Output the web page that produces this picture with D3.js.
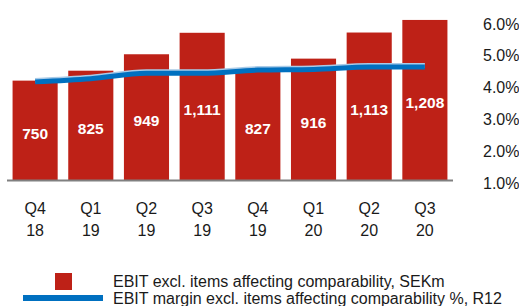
<!DOCTYPE html>
<html><head><meta charset="utf-8">
<script src="https://cdn.jsdelivr.net/npm/d3@7"></script>
<style>body{margin:0;background:#fff}svg{display:block}text{font-family:"Liberation Sans",Arial,sans-serif}</style>
</head><body>
<svg id="c" width="519" height="306"></svg>
<script>
const quarters = ["Q4","Q1","Q2","Q3","Q4","Q1","Q2","Q3"];
const years = ["18","19","19","19","19","20","20","20"];
const ebit = [750, 825, 949, 1111, 827, 916, 1113, 1208];
const ebitLabels = ["750","825","949","1,111","827","916","1,113","1,208"];
const margin = [4.18, 4.28, 4.45, 4.45, 4.55, 4.57, 4.65, 4.65];
const rightTicks = [1, 2, 3, 4, 5, 6];
const legendLabels = ["EBIT excl. items affecting comparability, SEKm", "EBIT margin excl. items affecting comparability %, R12"];

const svg = d3.select("#c");
const cats = d3.range(quarters.length);
const x = d3.scaleBand().domain(cats).range([7, 453]).paddingInner(0.19).paddingOuter(0.1);
const yL = d3.scaleLinear().domain([0, 1000]).range([180, 47.5]);
const yR = d3.scaleLinear().domain([1, 6]).range([183, 24]);
const red = "#BE2117", blue = "#0070C0";

svg.append("g").selectAll("rect").data(ebit).join("rect")
  .attr("x", (d,i) => x(i)).attr("width", x.bandwidth())
  .attr("y", d => yL(d)).attr("height", d => yL(0) - yL(d))
  .attr("fill", red);

svg.append("line").attr("x1", 7).attr("x2", 453).attr("y1", 180.5).attr("y2", 180.5)
  .attr("stroke", "#808080").attr("stroke-width", 2);

svg.append("g").selectAll("text").data(ebit).join("text")
  .attr("x", (d,i) => x(i) + x.bandwidth()/2)
  .attr("y", d => (yL(d) + yL(0))/2 + 8.5)
  .attr("text-anchor", "middle").attr("fill", "#fff")
  .attr("font-weight", "bold").attr("font-size", 15.5)
  .text((d,i) => ebitLabels[i]);

const line = d3.line().x((d,i) => x(i) + x.bandwidth()/2).y(d => yR(d)).curve(d3.curveMonotoneX);
svg.append("path").datum(margin).attr("d", line).attr("transform", "translate(0,-1.5)")
  .attr("fill", "none").attr("stroke", "#a9cbe8").attr("stroke-width", 5);
svg.append("path").datum(margin).attr("d", line)
  .attr("fill", "none").attr("stroke", blue).attr("stroke-width", 5);

const ax = svg.append("g").attr("transform", "translate(478,0)")
  .call(d3.axisRight(yR).tickValues(rightTicks).tickSize(0).tickPadding(5).tickFormat(d => d3.format(".1f")(d) + "%"));
ax.select(".domain").remove();
ax.selectAll("text").attr("font-size", 16).attr("fill", "#1a1a1a").style("font-family", '"Liberation Sans",Arial,sans-serif');

const xl = svg.append("g");
xl.selectAll("text.q").data(quarters).join("text").attr("class","q")
  .attr("x", (d,i) => x(i) + x.bandwidth()/2).attr("y", 214)
  .attr("text-anchor", "middle").attr("font-size", 16).attr("fill", "#1a1a1a").text(d => d);
xl.selectAll("text.y").data(years).join("text").attr("class","y")
  .attr("x", (d,i) => x(i) + x.bandwidth()/2).attr("y", 236)
  .attr("text-anchor", "middle").attr("font-size", 16).attr("fill", "#1a1a1a").text(d => d);

const lg = svg.append("g");
lg.append("rect").attr("x", 55).attr("y", 273).attr("width", 17).attr("height", 17).attr("fill", red);
lg.append("line").attr("x1", 23).attr("x2", 103).attr("y1", 298).attr("y2", 298).attr("stroke", blue).attr("stroke-width", 6);
lg.selectAll("text").data(legendLabels).join("text")
  .attr("x", 113).attr("y", (d,i) => 287 + i*17)
  .attr("font-size", 16).attr("fill", "#1a1a1a").text(d => d);
</script>
</body></html>
